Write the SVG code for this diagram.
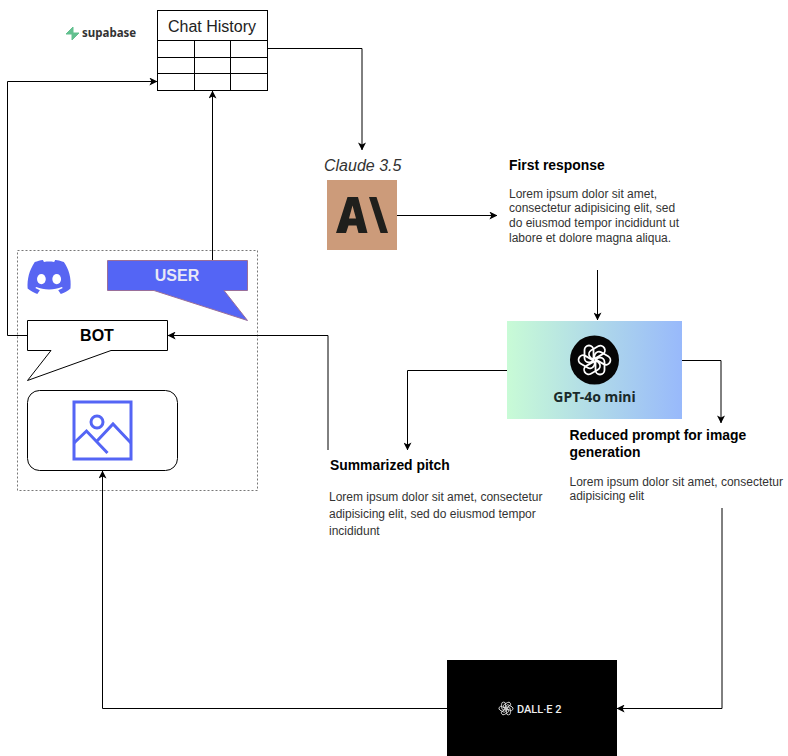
<svg xmlns="http://www.w3.org/2000/svg" width="788" height="756" viewBox="0 0 788 756">
<style>
.c{fill:none;stroke:#000;stroke-width:1}
.s{fill:#fff;stroke:#000;stroke-width:1}
text{font-family:"Liberation Sans",Arial,sans-serif}
.h{font-weight:bold;fill:#000;font-size:13.900px}
.b{font-size:12px;fill:#333}
.logo{font-family:"Noto Sans","Liberation Sans",sans-serif}
</style>
<defs>
<marker id="a" viewBox="0 0 10 10" refX="9.500" refY="5" markerWidth="8" markerHeight="8" markerUnits="userSpaceOnUse" orient="auto"><path d="M0 0L10 5L0 10L2.500 5Z" fill="#000"/></marker>
<linearGradient id="g" x1="0" x2="1" y1="0" y2="0"><stop offset="0" stop-color="#c8fbd6"/><stop offset="1" stop-color="#98b9fb"/></linearGradient>
<rect id="p" x="-10" y="-14.500" width="9" height="17" rx="4.500" ry="4.500" fill="none"/>
<g id="knot">
<use href="#p"/><use href="#p" transform="rotate(60)"/><use href="#p" transform="rotate(120)"/><use href="#p" transform="rotate(180)"/><use href="#p" transform="rotate(240)"/><use href="#p" transform="rotate(300)"/>
</g>
</defs>
<rect width="788" height="756" fill="#fff"/>
<g id="frame"><rect x="17.500" y="250.500" width="240" height="240" fill="none" stroke="#777" stroke-dasharray="2 2"/></g>
<g id="supabase">
<path d="M73 27L73 34L66 34L73 27ZM72 40L72 33L79 33L72 40Z" fill="#62c08f" stroke="#62c08f" stroke-linejoin="round"/>
<text class="logo" x="82" y="37" font-size="11.500" font-weight="bold" fill="#333">supabase</text>
</g>
<g id="chat-history">
<rect class="s" x="157.500" y="10.500" width="110" height="80"/>
<path class="c" d="M157.500 40.500H267.500M157.500 57.500H267.500M157.500 73.500H267.500M194.500 40.500V90.500M230.500 40.500V90.500"/>
<text x="212" y="32" font-size="16" fill="#222" text-anchor="middle">Chat History</text>
</g>
<g id="connectors">
<path class="c" d="M268 48.500H362V150" marker-end="url(#a)"/>
<path class="c" d="M27 335.500H7.500V81.500H157" marker-end="url(#a)"/>
<path class="c" d="M212.500 260V91" marker-end="url(#a)"/>
<path class="c" d="M397 215.500H497" marker-end="url(#a)"/>
<path class="c" d="M597.500 270V320" marker-end="url(#a)"/>
<path class="c" d="M507 370.500H407.500V450" marker-end="url(#a)"/>
<path class="c" d="M682 360.500H721V423" marker-end="url(#a)"/>
<path class="c" d="M722 508V708.500H617" marker-end="url(#a)"/>
<path class="c" d="M447 708.500H102.500V471" marker-end="url(#a)"/>
<path class="c" d="M328 450V335.500H168" marker-end="url(#a)"/>
</g>
<g id="discord" transform="translate(-2.500 0) translate(49 278) scale(1.02 1.06) translate(-49 -278)">
<path d="M66 263C62 261.500 59 260.800 57.500 261L56.500 262.800C53 262.300 50 262.300 46.500 262.800L45.500 261C43 261.300 40 262 37.500 263C32 271 30 279 30.500 288C33.500 290.500 37 292 40 293L42.500 289.500L38 287.500L39 286.500C46 289.500 57 289.500 64 286.500L65 287.500L60.500 289.500L63 293C66.500 292 70 290.500 72.500 288C73.500 278 71 270 66 263Z" fill="#5865f2"/>
<ellipse cx="44" cy="279" rx="4.300" ry="4.800" fill="#fff"/><ellipse cx="59" cy="279" rx="4.300" ry="4.800" fill="#fff"/>
</g>
<g id="user">
<path d="M107.500 260.500H247.500V290.500H224L247.500 320.500L154 290.500H107.500Z" fill="#5465f5" stroke="#9a6f9a"/>
<text x="177" y="281" font-size="16" font-weight="bold" fill="#e8e8f5" text-anchor="middle">USER</text>
</g>
<g id="bot">
<path class="s" d="M27.500 320.500H167.500V350.500H111L27.500 380.500L51 350.500H27.500Z"/>
<text x="97" y="341" font-size="16" font-weight="bold" fill="#000" text-anchor="middle">BOT</text>
</g>
<g id="image">
<rect class="s" x="27.500" y="390.500" width="150" height="80" rx="12" ry="12"/>
<g fill="none" stroke="#5465f5" stroke-width="3">
<rect x="74" y="402" width="57" height="57"/>
<circle cx="97" cy="422" r="6"/>
<path d="M74 443L86.500 431L107.500 453M97 441L113 424L131 443"/>
</g>
</g>
<g id="claude">
<text x="324" y="171" font-size="16" font-style="italic" fill="#333">Claude 3.5</text>
<rect x="327" y="180" width="70" height="70" fill="#cc9b7a"/>
<path d="M336 233L347.500 197H358L367.500 233H358.500L356.500 225.500H348.500L346 233ZM349 218.500H356L352.500 205.500Z" fill="#1f1f1c" fill-rule="evenodd"/>
<path d="M369 197H376.500L388 233H380.500Z" fill="#1f1f1c"/>
</g>
<g id="first-response">
<text class="h" x="509" y="170">First response</text>
<text class="b" x="509" y="198">Lorem ipsum dolor sit amet,</text>
<text class="b" x="509" y="212">consectetur adipisicing elit, sed</text>
<text class="b" x="509" y="227">do eiusmod tempor incididunt ut</text>
<text class="b" x="509" y="242">labore et dolore magna aliqua.</text>
</g>
<g id="gpt">
<rect x="507" y="321" width="175" height="98" fill="url(#g)"/>
<circle cx="594.500" cy="360" r="24.500" fill="#050505"/>
<use href="#knot" transform="translate(594.500 360)" stroke="#fff" stroke-width="1.800"/>
<text class="logo" x="594.500" y="402" font-size="14" font-weight="bold" fill="#1a2a2a" text-anchor="middle">GPT-4o mini</text>
</g>
<g id="summarized-pitch">
<text class="h" x="330" y="470">Summarized pitch</text>
<text class="b" x="329" y="501">Lorem ipsum dolor sit amet, consectetur</text>
<text class="b" x="329" y="518">adipisicing elit, sed do eiusmod tempor</text>
<text class="b" x="329" y="535">incididunt</text>
</g>
<g id="reduced-prompt">
<text class="h" x="569.500" y="440">Reduced prompt for image</text>
<text class="h" x="569.500" y="457">generation</text>
<text class="b" x="569.500" y="486">Lorem ipsum dolor sit amet, consectetur</text>
<text class="b" x="569.500" y="500">adipisicing elit</text>
</g>
<g id="dalle">
<rect x="447" y="660" width="170" height="96" fill="#000"/>
<use href="#knot" transform="translate(506 708.500) scale(.44)" stroke="#ddd" stroke-width="2"/>
<text x="517" y="713" font-size="11" font-weight="500" fill="#eee" style="font-family:Roboto,sans-serif">DALL·E 2</text>
</g>
</svg>
